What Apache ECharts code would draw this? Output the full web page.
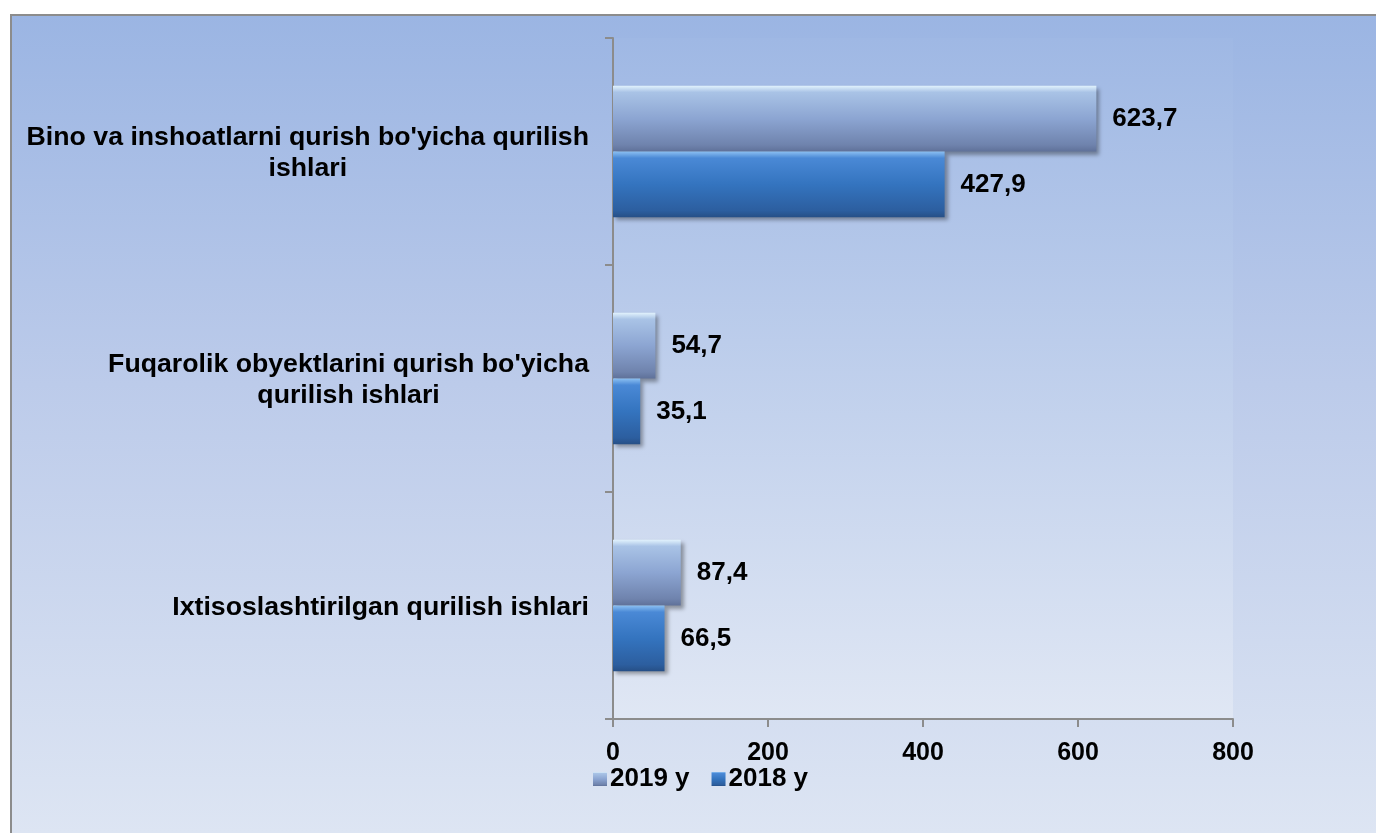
<!DOCTYPE html>
<html>
<head>
<meta charset="utf-8">
<script src="https://cdn.jsdelivr.net/npm/echarts@6/dist/echarts.min.js"></script>
<style>
  html, body { margin: 0; padding: 0; background: #fff; }
  #frame {
    position: absolute; left: 10px; top: 14px; width: 1366px; height: 819px;
    border-top: 2px solid #8c8c8c; border-left: 2px solid #8c8c8c; box-sizing: border-box;
    background: linear-gradient(to bottom, #9bb5e3 0%, #bccbea 45%, #dde5f3 100%);
  }
  #chart { position: absolute; left: 0; top: 0; width: 1376px; height: 833px; }
</style>
</head>
<body>
<div id="frame"></div>
<div id="chart"></div>
<script>
// categories, bottom to top
const categories = [
  'Ixtisoslashtirilgan qurilish ishlari',
  "Fuqarolik obyektlarini qurish bo'yicha\nqurilish ishlari",
  "Bino va inshoatlarni qurish bo'yicha qurilish\nishlari"
];
const values2019 = [87.4, 54.7, 623.7];
const values2018 = [66.5, 35.1, 427.9];
const xTicks = [0, 200, 400, 600, 800];

const chart = echarts.init(document.getElementById('chart'));

const fmt = (p) => p.value.toFixed(1).replace('.', ',');
const labelStyle = {
  show: true, position: 'right', distance: 16,
  formatter: fmt, color: '#000', fontWeight: 'bold', fontSize: 26,
  fontFamily: 'Liberation Sans, Arial, sans-serif'
};

// 2019 bar: greyish steel with light top edge
const color2019 = new echarts.graphic.LinearGradient(0, 0, 0, 1, [
  { offset: 0, color: '#e2f3fd' },
  { offset: 0.1, color: '#a9c3e6' },
  { offset: 0.5, color: '#8ca5d2' },
  { offset: 0.9, color: '#6f83ad' },
  { offset: 1, color: '#5f7199' }
]);
const color2018 = new echarts.graphic.LinearGradient(0, 0, 0, 1, [
  { offset: 0, color: '#8cc0f2' },
  { offset: 0.1, color: '#4a89d6' },
  { offset: 0.5, color: '#3474bf' },
  { offset: 0.9, color: '#2c5e9f' },
  { offset: 1, color: '#264f86' }
]);

chart.setOption({
  animation: false,
  textStyle: { fontFamily: 'Liberation Sans, Arial, sans-serif' },
  grid: {
    left: 613, right: 143, top: 38, bottom: 114,
    show: true, borderWidth: 0,
    backgroundColor: new echarts.graphic.LinearGradient(0, 0, 0, 1, [
      { offset: 0, color: '#9fb8e4' },
      { offset: 1, color: '#e0e7f4' }
    ])
  },
  legend: {
    data: ['2019 y', '2018 y'],
    left: 588, top: 761,
    icon: 'rect', itemWidth: 14, itemHeight: 14, itemGap: 22,
    textStyle: { color: '#000', fontWeight: 'bold', fontSize: 26, padding: [0, 0, 0, -2] }
  },
  xAxis: {
    type: 'value', min: 0, max: 800, interval: 200,
    axisLine: { show: true, lineStyle: { color: '#8c8c8c', width: 2 } },
    axisTick: { show: true, length: 8, lineStyle: { color: '#8c8c8c', width: 2 } },
    splitLine: { show: false },
    axisLabel: {
      margin: 22, color: '#000', fontWeight: 'bold', fontSize: 25,
      formatter: (v) => xTicks.includes(v) ? String(v) : ''
    }
  },
  yAxis: {
    type: 'category', data: categories,
    axisLine: { show: true, lineStyle: { color: '#8c8c8c', width: 2 } },
    axisTick: { show: true, length: 8, lineStyle: { color: '#8c8c8c', width: 2 } },
    axisLabel: {
      margin: 24, color: '#000', fontWeight: 'bold', fontSize: 26.7, lineHeight: 31,
      formatter: (v) => v.split('\n').map(s => '{c|' + s + '}').join('\n'),
      rich: { c: { align: 'center', color: '#000', fontWeight: 'bold', fontSize: 26.7, lineHeight: 31, padding: [4, 0, 0, 0] } }
    }
  },
  series: [
    {
      name: '2019 y', type: 'bar', data: values2019,
      barGap: '0%', barCategoryGap: '42%',
      itemStyle: { color: color2019, shadowColor: 'rgba(0,0,0,0.35)', shadowBlur: 4, shadowOffsetX: 3, shadowOffsetY: 3 },
      label: labelStyle
    },
    {
      name: '2018 y', type: 'bar', data: values2018,
      barGap: '0%', barCategoryGap: '42%',
      itemStyle: { color: color2018, shadowColor: 'rgba(0,0,0,0.35)', shadowBlur: 4, shadowOffsetX: 3, shadowOffsetY: 3 },
      label: labelStyle
    }
  ]
});
</script>
</body>
</html>
